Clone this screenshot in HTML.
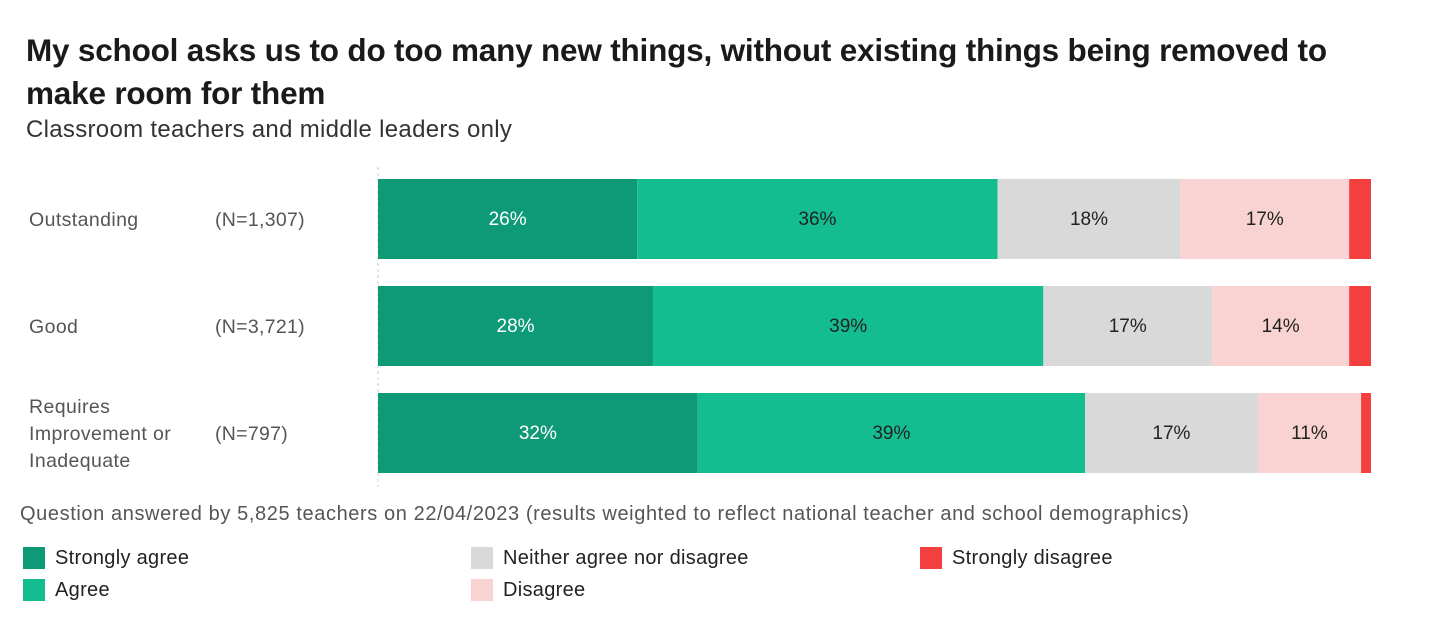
<!DOCTYPE html>
<html><head><meta charset="utf-8">
<style>
body{margin:0;width:1440px;height:640px;background:#fff;font-family:"Liberation Sans",sans-serif;overflow:hidden;position:relative}
.t{position:absolute;white-space:nowrap}
</style></head><body>
<div class="t" style="left:26px;top:29px;font-size:31.5px;font-weight:bold;color:#1a1a1a;line-height:43px;letter-spacing:-0.2px">My school asks us to do too many new things, without existing things being removed to<br>make room for them</div>
<div class="t" style="left:26px;top:116px;font-size:24px;color:#333;letter-spacing:0.3px">Classroom teachers and middle leaders only</div>
<svg id="chart" width="1440" height="640" style="position:absolute;left:0;top:0"></svg>
<div class="t" style="left:20px;top:503px;font-size:20px;color:#555;letter-spacing:0.6px">Question answered by 5,825 teachers on 22/04/2023 (results weighted to reflect national teacher and school demographics)</div>
<div id="legend"></div>
<script>
const categories=["Outstanding","Good","Requires Improvement or Inadequate"];
const nLabels=["(N=1,307)","(N=3,721)","(N=797)"];
const seriesNames=["Strongly agree","Agree","Neither agree nor disagree","Disagree","Strongly disagree"];
const stronglyAgree=[26.1,27.7,32.2];
const agree=[36.3,39.3,39.0];
const neither=[18.4,17.0,17.4];
const disagree=[17.0,13.8,10.4];
const stronglyDisagree=[2.2,2.2,1.0];
const printed=[["26%","36%","18%","17%",""],["28%","39%","17%","14%",""],["32%","39%","17%","11%",""]];
const colors=["#0f9a77","#13bd8f","#d9d9d9","#f9d3d2","#f43f3f"];
const textColors=["#fff","#222","#222","#222","#222"];
const series=[stronglyAgree,agree,neither,disagree,stronglyDisagree];
const NS="http://www.w3.org/2000/svg";
const svg=document.getElementById('chart');
const x0=378,x1=1371;
const xs=v=>x0+(x1-x0)*v/100;
const rowY=i=>179+i*107, barH=80;
function el(t,a){const e=document.createElementNS(NS,t);for(const k in a)e.setAttribute(k,a[k]);svg.appendChild(e);return e;}
const ax=el('line',{x1:x0,x2:x0,y1:167,y2:487,stroke:'#ccc','stroke-dasharray':'3,3'});


categories.forEach((c,i)=>{
  const y=rowY(i);
  const lines=i===2?["Requires","Improvement or","Inadequate"]:[c];
  lines.forEach((l,j)=>{
    const t=el('text',{x:29,y:y+40+7+(j-(lines.length-1)/2)*27,'font-size':19.5,fill:'#555','letter-spacing':'0.4'});
    t.textContent=l;
    
    
  });
  const n=el('text',{x:215,y:y+47,'font-size':19.5,fill:'#555','letter-spacing':'0.3'});n.textContent=nLabels[i];
  
  
  let cum=0;
  series.forEach((s,k)=>{
    const a=xs(cum),b=xs(cum+s[i]);cum+=s[i];
    const r=el('rect',{x:a,y:y,width:b-a,height:barH,fill:colors[k]});
    
    
    if(printed[i][k]){
      const t=el('text',{x:(a+b)/2,y:y+46,'font-size':19,fill:textColors[k],'text-anchor':'middle'});
      t.textContent=printed[i][k];
      
      
    }
  });
});
const legPos=[[23,547],[23,579],[471,547],[471,579],[920,547]];
const lg=document.getElementById('legend');
seriesNames.forEach((s,k)=>{
  const d=document.createElement('div');
  d.className='t';
  d.style.cssText=`left:${legPos[k][0]}px;top:${legPos[k][1]}px;font-size:20px;color:#222;line-height:22px;letter-spacing:0.3px`;
  d.innerHTML=`<span style="display:inline-block;width:22px;height:22px;background:${colors[k]};vertical-align:top;margin-right:10px"></span>${s}`;
  
  
  lg.appendChild(d);
});
</script>
</body></html>
